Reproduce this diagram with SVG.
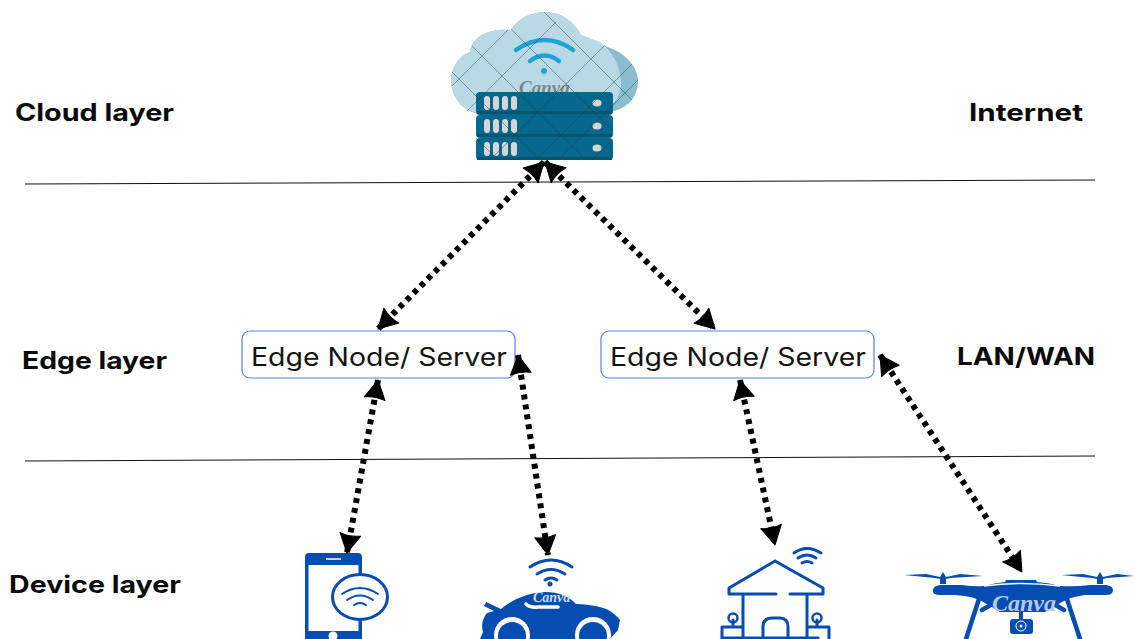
<svg xmlns="http://www.w3.org/2000/svg" width="1134" height="639" viewBox="0 0 1134 639">
<style>
.lab{font-family:"Inter","Liberation Sans",sans-serif;font-weight:700;font-size:24px;fill:#0b0b0b}
.nodeText{font-family:"Inter","Liberation Sans",sans-serif;font-size:25px;fill:#141414}
.box{fill:#fff;stroke:#5b7cf5;stroke-width:1.2}
.sep{stroke:#111;stroke-width:1;fill:none}
.link{stroke:#000;stroke-width:6;stroke-dasharray:5 5;fill:none;marker-start:url(#ah);marker-end:url(#ah)}
.blue{fill:#054db0}
.line{fill:none;stroke:#054db0;stroke-linecap:round;stroke-linejoin:round}
.rack{fill:#05688c}
.led{fill:#d5d5d5}
.wm{font-family:"Liberation Serif",serif;font-style:italic;font-weight:700}
.mesh{stroke:#2c3a40;stroke-width:.8;opacity:.6;fill:none}
</style>
<defs>
<marker id="ah" markerUnits="userSpaceOnUse" markerWidth="28" markerHeight="28" refX="20" refY="12" orient="auto-start-reverse"><path d="M1 1.500L20 12L1 22.500Q4 12 1 1.500Z" fill="#000" stroke="#000" stroke-width="1" stroke-linejoin="round"/></marker>
<clipPath id="cloudClip"><path d="M610 48C628 54 638 70 638 80C638 100 625 112 613 113V160H476V116C462 112 451 96 451 80C451 66 460 56 470 52C472 36 490 28 511 30C518 18 532 12 545 12C562 12 574 22 581 35Z"/></clipPath>
</defs>
<rect width="1134" height="639" fill="#fff"/>
<g id="separators">
<line class="sep" x1="25" y1="184" x2="1095" y2="180"/>
<line class="sep" x1="25" y1="461" x2="1095" y2="456"/>
</g>
<g id="layer-labels">
<text class="lab" x="15" y="121" textLength="159" lengthAdjust="spacingAndGlyphs">Cloud layer</text>
<text class="lab" x="22" y="369" textLength="145" lengthAdjust="spacingAndGlyphs">Edge layer</text>
<text class="lab" x="9" y="593" textLength="172" lengthAdjust="spacingAndGlyphs">Device layer</text>
<text class="lab" x="969" y="121" textLength="114" lengthAdjust="spacingAndGlyphs">Internet</text>
<text class="lab" x="957" y="365" textLength="138" lengthAdjust="spacingAndGlyphs">LAN/WAN</text>
</g>
<g id="cloud-server">
<path d="M610 48C628 54 638 70 638 80C638 100 625 112 600 113H520L480 114C462 112 451 96 451 80C451 66 460 56 470 52C472 36 490 28 511 30C518 18 532 12 545 12C562 12 574 22 581 35Z" fill="#8abdd2"/>
<path d="M600 42C622 58 628 92 612 104C602 112 590 113 570 113H480C462 112 451 96 451 80C451 66 460 56 470 52C472 36 490 28 511 30C518 18 532 12 545 12C562 12 574 22 581 35Z" fill="#bad9e7"/>
<path d="M516 50Q545 30 573 50" fill="none" stroke="#1ea3d6" stroke-width="4.500" stroke-linecap="round"/>
<path d="M530 61Q545 50 559 61" fill="none" stroke="#1ea3d6" stroke-width="4.500" stroke-linecap="round"/>
<circle cx="544" cy="71" r="3" fill="#1ea3d6"/>
<text class="wm" x="519" y="94" font-size="19" fill="#7e8589">Canva</text>
<rect class="rack" x="476" y="92" width="137" height="23" rx="4"/>
<rect class="rack" x="476" y="115" width="137" height="23" rx="4"/>
<rect class="rack" x="476" y="138" width="137" height="22" rx="4"/>
<path d="M477 112.500H612M477 135.500H612M477 158.500H612" stroke="#045570" stroke-width="3"/>
<g class="led">
<rect x="484" y="96" width="6" height="14" rx="3"/><rect x="493" y="96" width="6" height="14" rx="3"/><rect x="502" y="96" width="6" height="14" rx="3"/><rect x="511" y="96" width="6" height="14" rx="3"/>
<rect x="484" y="119" width="6" height="14" rx="3"/><rect x="493" y="119" width="6" height="14" rx="3"/><rect x="502" y="119" width="6" height="14" rx="3"/><rect x="511" y="119" width="6" height="14" rx="3"/>
<rect x="484" y="142" width="6" height="14" rx="3"/><rect x="493" y="142" width="6" height="14" rx="3"/><rect x="502" y="142" width="6" height="14" rx="3"/><rect x="511" y="142" width="6" height="14" rx="3"/>
<ellipse cx="597" cy="103" rx="4.500" ry="3.500"/><ellipse cx="597" cy="126" rx="4.500" ry="3.500"/><ellipse cx="597" cy="148" rx="4.500" ry="3.500"/>
</g>
<g clip-path="url(#cloudClip)">
<path class="mesh" d="M452 86L525 13M466 112L556 22M490 160L618 32M536 160L638 58M558 160L638 80M592 160L638 114M452 72L540 160M470 44L586 160M510 28L632 150M544 12L638 106M450 112L498 160"/>
</g>
</g>
<g id="edge-node-1">
<rect class="box" x="242" y="331" width="273" height="47" rx="8"/>
<text class="nodeText" x="251" y="366" textLength="256" lengthAdjust="spacingAndGlyphs">Edge Node/ Server</text>
</g>
<g id="edge-node-2">
<rect class="box" x="601" y="331" width="273" height="47" rx="8"/>
<text class="nodeText" x="610" y="366" textLength="256" lengthAdjust="spacingAndGlyphs">Edge Node/ Server</text>
</g>
<g id="device-phone">
<path class="blue" fill-rule="evenodd" d="M309 553H358Q362 553 362 557V639H305V557Q305 553 309 553ZM308.500 565V631H358.500V565Z"/>
<path d="M326 559H341" stroke="#fff" stroke-width="1.500"/>
<circle cx="333" cy="636" r="4.500" fill="#fff"/>
<ellipse cx="360" cy="597" rx="27.500" ry="22.500" fill="#fff" stroke="#054db0" stroke-width="3"/>
<path class="line" stroke-width="2" d="M342 594Q360 582 378 594M347 600Q360 591 373 600M354 605Q360 601 366 605"/>
</g>
<g id="device-car">
<path class="blue" d="M483 632Q480 622 487 613L494 611L484 606L486 602L501 609Q520 593 545 592Q565 592 576 604Q600 605 610 611Q617 616 620 620L618 630L610 639H480Z"/>
<circle cx="512" cy="635" r="18" fill="#fff"/><circle cx="512" cy="636" r="14" fill="#054db0"/>
<circle cx="593" cy="635" r="18" fill="#fff"/><circle cx="593" cy="636" r="14" fill="#054db0"/>
<path d="M526 604Q530 608 538 607H558" fill="none" stroke="#fff" stroke-width="3.500" stroke-linecap="round"/>
<path class="line" stroke-width="3" d="M530 567Q551 553 572 567M537 574Q551 565 565 574M545 580Q551 576 557 580"/>
<circle cx="550" cy="584" r="2.500" fill="#054db0"/>
<text class="wm" x="533" y="602" font-size="14" fill="#d2deee">Canva</text>
</g>
<g id="device-house">
<path class="line" stroke-width="3" d="M775 561L729 588V594H776M790 594H823V588L775 561M743 595V639M807 595V639M763 639V627Q763 618 772 618H780Q788 618 788 627V639M722 639V627H742M808 627H829V639M722 638H818"/>
<path class="line" stroke-width="3" d="M733 620V625M817 620V625"/>
<circle cx="733" cy="618" r="4.500" fill="none" stroke="#054db0" stroke-width="2.500"/>
<circle cx="817" cy="618" r="4.500" fill="none" stroke="#054db0" stroke-width="2.500"/>
<path class="line" stroke-width="3" d="M794 553Q807 544 821 553M798 558Q807 552 816 558M802 563Q807 560 812 563"/>
</g>
<g id="device-drone">
<path class="blue" d="M904 575L926 574L940 577L943 572L946 577L960 574L983 576L950 578L946 579V584H940V579L935 578ZM1061 575L1083 574L1097 577L1100 572L1103 577L1117 574L1134 576L1107 578L1103 579V584H1097V579L1092 578Z"/>
<path class="blue" d="M940 585H962Q975 587 984 586Q995 583 1005 582L1006 580H1036L1037 582Q1050 583 1060 586Q1075 587 1090 585H1106Q1113 586 1113 590Q1113 595 1106 595H1085Q1070 597 1062 602L1045 612H1000L985 603Q975 596 955 595H940Q932 595 933 590Q933 586 940 585Z"/>
<path d="M984 586Q1020 581 1060 586" fill="none" stroke="#fff" stroke-width="1.500"/>
<path class="line" stroke-width="4.500" d="M979 599L966 639M1067 599L1080 639M982 610L994 603M1064 610L1052 603"/>
<rect x="1010" y="619" width="23" height="15" rx="3" fill="#054db0"/>
<rect x="1019" y="610" width="4" height="10" fill="#054db0"/>
<circle cx="1021" cy="626" r="5" fill="none" stroke="#fff" stroke-width="1"/><circle cx="1021" cy="626" r="1.500" fill="#fff"/>
<text class="wm" x="992" y="611" font-size="24" fill="#b4c8e2">Canva</text>
</g>
<g id="connectors">
<line class="link" x1="544" y1="162" x2="378" y2="329"/>
<line class="link" x1="545" y1="162" x2="715" y2="329"/>
<line class="link" x1="378" y1="380" x2="347" y2="553"/>
<line class="link" x1="518" y1="355" x2="548" y2="555"/>
<line class="link" x1="740" y1="380" x2="775" y2="545"/>
<line class="link" x1="880" y1="355" x2="1022" y2="572"/>
</g>
</svg>
